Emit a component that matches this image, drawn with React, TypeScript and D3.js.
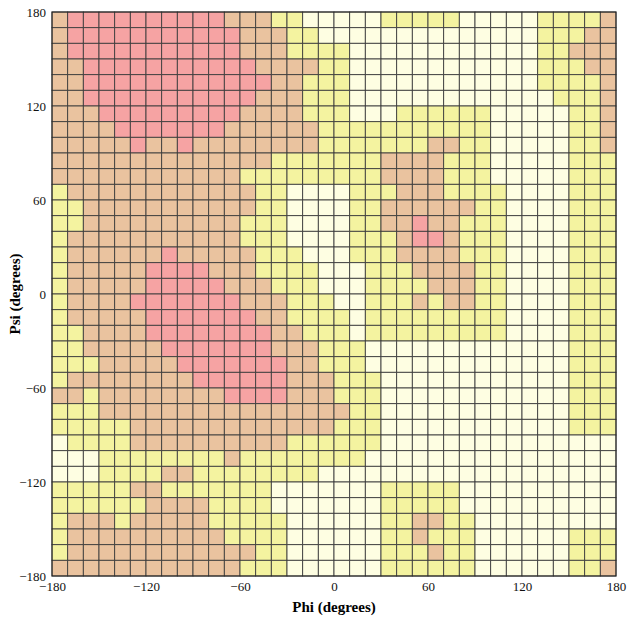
import React, { useEffect, useRef } from 'react';
import * as d3 from 'd3';

// region codes: P core, T allowed, Y generous, W outside
const regionNames = ['P', 'T', 'Y', 'W'];
const regionColors = ['#f6a3a3', '#eac39f', '#f4f3a0', '#fefee2'];

// one string per psi row, from psi 180 (top) down to -180; one letter per 10 degrees of phi
const psiRows = [
  'TPPPPPPPPPPTTTYYWWWWWYYYYYWWWWWYYYYT',
  'TPPPPPPPPPPPTTTYYWWWWWWWWWWWWWWYYYTT',
  'TPPPPPPPPPPPTTTYYYYWWWWWWWWWWWWYYTTT',
  'TTPPPPPPPPPPPTTTTYYWWWWWWWWWWWWYYYTT',
  'TTPPPPPPPPPPPPTTYYYWWWWWWWWWWWWYYYYT',
  'TTPPPPPPPPPPPTTTYYYWWWWWWWWWWWWWYYYT',
  'TTTPPPPPPPPPTTTTYYYWWWYYYYYYWWWWWYYT',
  'TTTTPPPPPPPTTTTTTYYYYYYYYYYYWWWWWYYT',
  'TTTTTPTTPTTTTTTTTYYYYYYYTTYYWWWWWYYT',
  'TTTTTTTTTTTTTTYYYYYYYTTTTYYYWWWWWYYY',
  'TTTTTTTTTTTTYYYYYYYYYTTTTYYYWWWWWYYY',
  'YTTTTTTTTTTTTYYWWWWYYYTTTYYYYWWWWYYY',
  'YYTTTTTTTTTTTYYWWWWYYTTTTTTYYWWWWYYY',
  'YYTTTTTTTTTTYYYWWWWYYTTPTTYYYWWWWYYY',
  'YTTTTTTTTTTTYYYWWWWYYYTPPTYYYWWWWYYY',
  'YTTTTTTPTTTTTYYYWWWYYYTTTTYYYWWWWYYY',
  'YTTTTTPPPPTTTYYYYWWWYYYTTTTYYWWWWYYY',
  'YTTTTTPPPPPTTTYYYWWWYYYYTTTYYWWWWYYY',
  'YTTTTPPPPPPPTTTYYYWWYYYTYTTYYWWWWYYY',
  'YTTTTTPPPPPPPTTYYYYWYYYYYYYYYWWWWYYY',
  'YYTTTTPPPPPPPPTTYYYWYYYYYYYYYWWWWYYY',
  'YYTTTTTPPPPPPPTTTYYYWWWWWWWWWWWWWYYY',
  'YYYTTTTTPPPPPPPTTYYYWWWWWWWWWWWWWYYY',
  'YTTTTTTTTPPPPPPTTTYYYWWWWWWWWWWWWYYY',
  'TTYTTTTTTTTPPPPTTTYYYWWWWWWWWWWWWYYY',
  'YYYTTTTTTTTTTTTTTTTYYWWWWWWWWWWWWYYY',
  'YYYYYTTTTTTTTTTTTTYYYWWWWWWWWWWWWYYY',
  'WYYYYTTTTTTTTTTYYYYYYWWWWWWWWWWWWWWW',
  'WWWYYYYYYYYTYYYYYYYYWWWWWWWWWWWWWWWW',
  'WWWYYYYTTYYYYYYYYWWWWWWWWWWWWWWWWWWW',
  'YYYYYTTYYYYYYYWWWWWWWYYYYYWWWWWWWWWW',
  'YYYYYYTTTTYYYYWWWWWWWYYYYYWWWWWWWWWW',
  'YTTTYTTTTTYYYYYWWWWWWYYTTYYWWWWWWWWW',
  'YTTTTTTTTTTYYYYWWWWWWYYTYYYWWWWWWYYY',
  'YTTTTTTTTTTTTYYWWWWWWYYYTYYWWWWWWYYY',
  'TTTTTTTTTTTTYYYWWWWWWYYYYYYWWWWWWYYT',
];

const phiTicks = [-180, -120, -60, 0, 60, 120, 180];
const psiTicks = [-180, -120, -60, 0, 60, 120, 180];
const step = 10;

const App = () => {
  const svgRef = useRef<SVGSVGElement | null>(null);

  useEffect(() => {
    const width = 630;
    const height = 619;
    const margin = { top: 12, right: 14, bottom: 43, left: 52 };

    const svg = d3.select(svgRef.current)
      .attr('width', width)
      .attr('height', height);
    svg.selectAll('*').remove();

    const x = d3.scaleLinear().domain([-180, 180]).range([margin.left, width - margin.right]);
    const y = d3.scaleLinear().domain([-180, 180]).range([height - margin.bottom, margin.top]);
    const color = d3.scaleOrdinal<string, string>().domain(regionNames).range(regionColors);

    const cells: { phi: number; psi: number; code: string }[] = [];
    psiRows.forEach((row, r) => {
      row.split('').forEach((code, c) => {
        cells.push({ phi: -180 + c * step, psi: 180 - r * step, code });
      });
    });

    svg.append('g')
      .selectAll('rect')
      .data(cells)
      .join('rect')
      .attr('x', d => x(d.phi))
      .attr('y', d => y(d.psi))
      .attr('width', d => x(d.phi + step) - x(d.phi))
      .attr('height', d => y(d.psi - step) - y(d.psi))
      .attr('fill', d => color(d.code))
      .attr('stroke', '#3d3d3d')
      .attr('stroke-width', 0.9);

    svg.append('rect')
      .attr('x', x(-180))
      .attr('y', y(180))
      .attr('width', x(180) - x(-180))
      .attr('height', y(-180) - y(180))
      .attr('fill', 'none')
      .attr('stroke', '#222')
      .attr('stroke-width', 1);

    const font = '"Liberation Serif", "Times New Roman", serif';

    const xAxis = svg.append('g')
      .attr('transform', `translate(0,${y(-180)})`)
      .call(d3.axisBottom(x).tickValues(phiTicks).tickSize(0).tickPadding(6).tickFormat(d3.format('d')));
    xAxis.select('.domain').remove();
    xAxis.selectAll('text').attr('font-size', 13).attr('font-family', font).attr('fill', '#111');

    const yAxis = svg.append('g')
      .attr('transform', `translate(${x(-180)},0)`)
      .call(d3.axisLeft(y).tickValues(psiTicks).tickSize(0).tickPadding(6).tickFormat(d3.format('d')));
    yAxis.select('.domain').remove();
    yAxis.selectAll('text').attr('font-size', 13).attr('font-family', font).attr('fill', '#111');

    svg.append('text')
      .attr('x', (x(-180) + x(180)) / 2)
      .attr('y', height - 7)
      .attr('text-anchor', 'middle')
      .attr('font-family', font)
      .attr('font-weight', 'bold')
      .attr('font-size', 15)
      .text('Phi (degrees)');

    svg.append('text')
      .attr('transform', `translate(20,${(y(-180) + y(180)) / 2}) rotate(-90)`)
      .attr('text-anchor', 'middle')
      .attr('font-family', font)
      .attr('font-weight', 'bold')
      .attr('font-size', 15)
      .text('Psi (degrees)');
  }, []);

  return (
    <svg ref={svgRef} style={{ position: 'absolute', left: 0, top: 0 }}></svg>
  );
};

export default App;
